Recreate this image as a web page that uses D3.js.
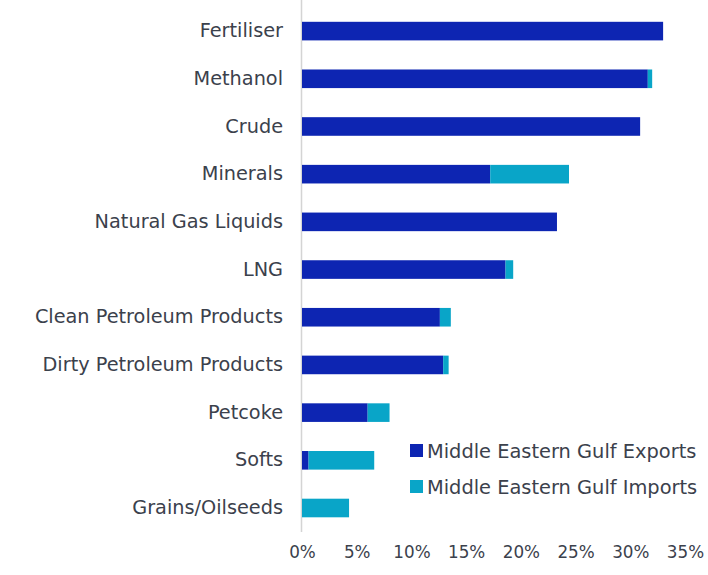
<!DOCTYPE html>
<html>
<head>
<meta charset="utf-8">
<script src="https://cdn.jsdelivr.net/npm/d3@7/dist/d3.min.js"></script>
<style>
  html, body { margin: 0; padding: 0; background: #ffffff; }
  svg { display: block; }
  text { font-family: "DejaVu Sans", "Open Sans", sans-serif; fill: #3b414c; }
</style>
</head>
<body>
<svg id="chart" width="708" height="575"></svg>
<script>
// Share of seaborne trade by cargo type (%)
const categories = [
  "Fertiliser", "Methanol", "Crude", "Minerals", "Natural Gas Liquids", "LNG",
  "Clean Petroleum Products", "Dirty Petroleum Products", "Petcoke", "Softs", "Grains/Oilseeds"
];
const exportsShare = [33.0, 31.6, 30.9, 17.2, 23.3, 18.6, 12.6, 12.9, 6.0, 0.6, 0.0];
const importsShare = [0.0, 0.4, 0.0, 7.2, 0.0, 0.7, 1.0, 0.5, 2.0, 6.0, 4.3];
const seriesNames = ["Middle Eastern Gulf Exports", "Middle Eastern Gulf Imports"];
const xTicks = [0, 5, 10, 15, 20, 25, 30, 35];

const colors = ["#0d25b2", "#09a5c8"];
const labelFont = "'DejaVu Sans', 'Open Sans', sans-serif";

const svg = d3.select("#chart");

const x = d3.scaleLinear().domain([0, 35]).range([302, 685]);
const y = d3.scaleBand().domain(categories).range([21.8, 517.3]).paddingInner(0.61).paddingOuter(0);

// stacked layout: exports first, imports on top
const rows = categories.map((c, i) => ({ cat: c, exp: exportsShare[i], imp: importsShare[i] }));
const stack = d3.stack().keys(["exp", "imp"])(rows);

// vertical baseline
svg.append("line")
  .attr("x1", 301.5).attr("x2", 301.5)
  .attr("y1", 0).attr("y2", 532)
  .attr("stroke", "#d4d4d4").attr("stroke-width", 1.5);

// bars
svg.append("g").selectAll("g")
  .data(stack)
  .join("g")
  .attr("fill", (d, i) => colors[i])
  .selectAll("rect")
  .data(d => d.filter(s => s[1] - s[0] > 0))
  .join("rect")
  .attr("x", d => x(d[0]))
  .attr("y", d => y(d.data.cat))
  .attr("width", d => x(d[1]) - x(d[0]))
  .attr("height", y.bandwidth());

// category labels
const yAxis = d3.axisLeft(y).tickSize(0).tickPadding(0);
const gy = svg.append("g").attr("transform", "translate(283,0)").call(yAxis);
gy.select(".domain").remove();
gy.selectAll("text")
  .attr("font-size", 19.3)
  .attr("fill", "#3a404b")
  .style("font-family", labelFont);

// value axis labels
const xAxis = d3.axisBottom(x).tickValues(xTicks).tickFormat(d => d + "%").tickSize(0).tickPadding(0);
const gx = svg.append("g").attr("transform", "translate(0,546)").call(xAxis);
gx.select(".domain").remove();
gx.selectAll("text")
  .attr("font-size", 16.8)
  .attr("fill", "#3a404b")
  .style("font-family", labelFont);

// legend
const legend = svg.append("g").attr("transform", "translate(410,0)");
const legendY = [451, 487];
seriesNames.forEach((name, i) => {
  legend.append("rect")
    .attr("x", 0).attr("y", legendY[i] - 7)
    .attr("width", 13).attr("height", 13)
    .attr("fill", colors[i]);
  legend.append("text")
    .attr("x", 17).attr("y", legendY[i])
    .attr("dy", "0.35em")
    .attr("font-size", 19.4)
    .attr("fill", "#3a404b")
    .style("font-family", labelFont)
    .text(name);
});
</script>
</body>
</html>
